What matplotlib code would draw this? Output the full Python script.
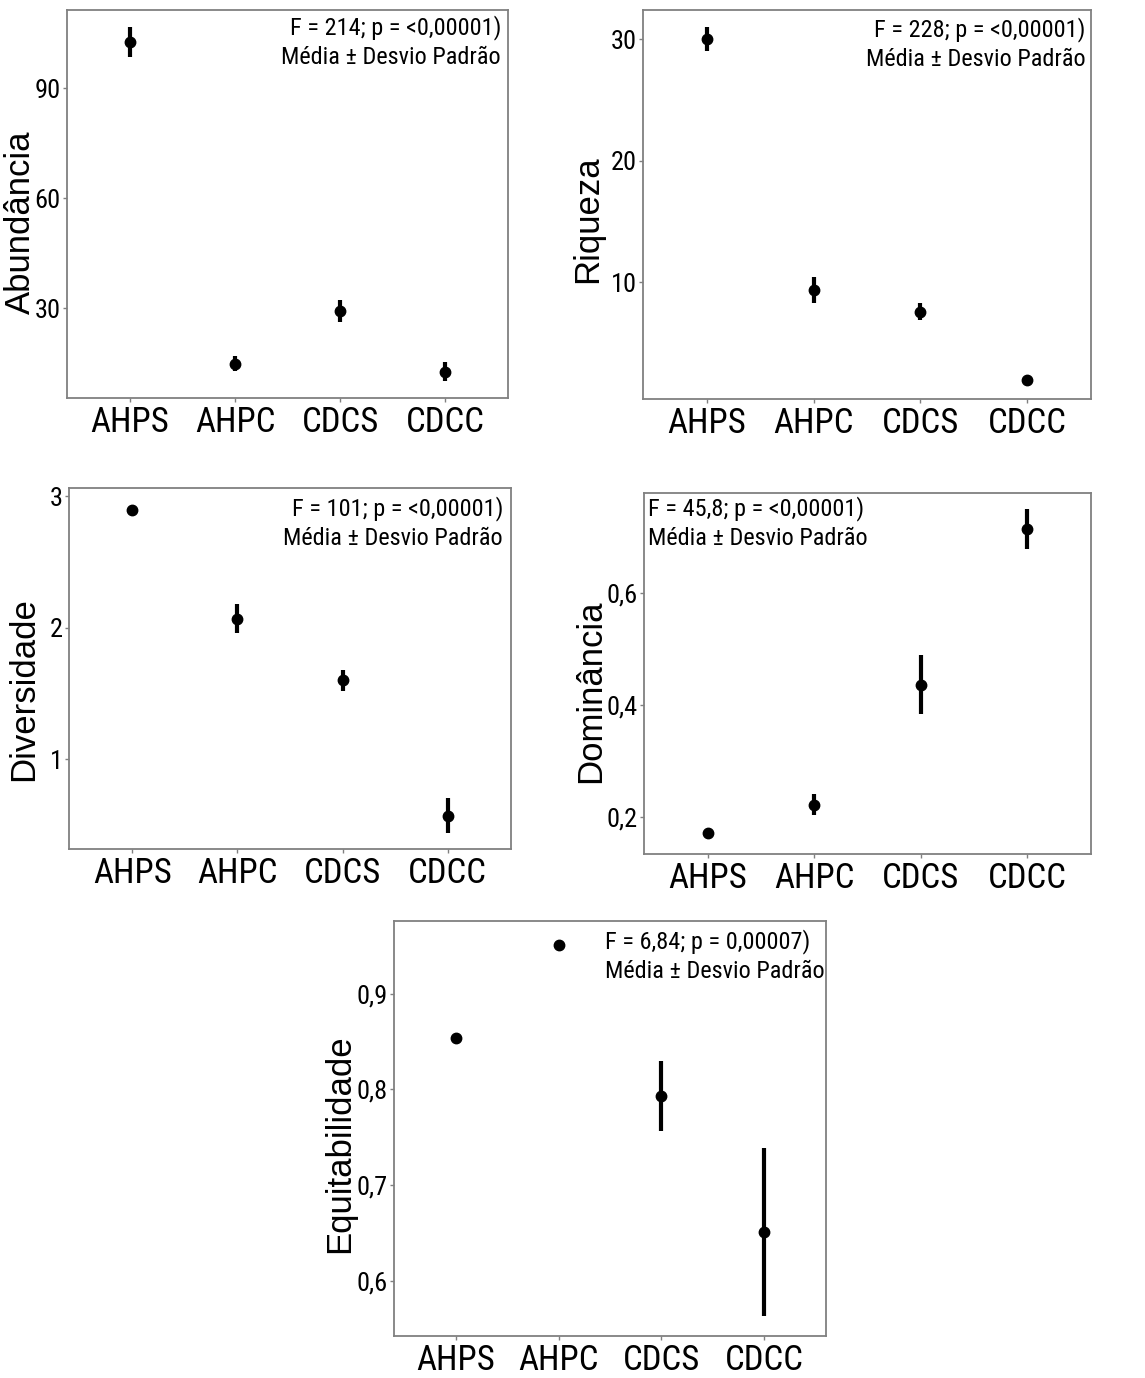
import numpy as np
import matplotlib
matplotlib.use("Agg")
import matplotlib.pyplot as plt
from matplotlib import font_manager

# groups and values (mean, sd)
groups = ["AHPS", "AHPC", "CDCS", "CDCC"]

abund_mean = [102.6, 14.9, 29.3, 12.6]
abund_sd = [4.0, 2.0, 3.0, 2.6]

riq_mean = [30.0, 9.4, 7.6, 2.0]
riq_sd = [1.0, 1.05, 0.7, 0.1]

div_mean = [2.90, 2.07, 1.60, 0.57]
div_sd = [0.02, 0.11, 0.08, 0.13]

dom_mean = [0.171, 0.221, 0.436, 0.715]
dom_sd = [0.005, 0.019, 0.053, 0.036]

eq_mean = [0.854, 0.951, 0.793, 0.651]
eq_sd = [0.003, 0.003, 0.037, 0.088]

stats_text = ["F = 214; p = <0,00001)", "F = 228; p = <0,00001)", "F = 101; p = <0,00001)",
              "F = 45,8; p = <0,00001)", "F = 6,84; p = 0,00007)"]

# look for a narrow face (the original uses Arial Narrow), else regular Liberation Sans
narrow_fp = None
prefs = ["Liberation Sans Narrow", "Roboto Condensed", "Noto Sans", "Open Sans", "Roboto", "DejaVu Sans"]
for pref in prefs:
    for f in font_manager.fontManager.ttflist:
        cond = ("Narrow" in f.name or "Condensed" in f.name
                or f.stretch in ("condensed", "semi-condensed", "extra-condensed"))
        if f.name.startswith(pref) and cond and f.style == "normal" and f.weight in (400, "normal", "regular"):
            narrow_fp = f.fname
            break
    if narrow_fp:
        break

if narrow_fp:
    narrow = dict(fontproperties=font_manager.FontProperties(fname=narrow_fp))
    xt_size, yt_size, txt_size = 25, 19, 17.5
else:
    narrow = dict(family="Liberation Sans")
    xt_size, yt_size, txt_size = 22, 16, 14.5

W, H = 1145, 1378
fig = plt.figure(figsize=(W / 100, H / 100), dpi=100)
fig.patch.set_facecolor("white")


def make_axes(x0, x1, y0, y1):
    # pixel box -> figure fraction
    return fig.add_axes([x0 / W, 1 - y1 / H, (x1 - x0) / W, (y1 - y0) / H])


def panel(ax, means, sds, ylim, yticks, ylabel, label_xy, txt, txt_xy, ha):
    x = np.arange(len(groups))
    ax.errorbar(x, means, yerr=sds, fmt="o", color="black", ms=7.5,
                elinewidth=3, capsize=0, zorder=3)
    ax.set_xlim(-0.6, 3.6)
    ax.set_ylim(*ylim)
    ax.set_xticks(x)
    ax.set_xticklabels(groups)
    ax.set_yticks(yticks)
    ax.set_yticklabels([str(t).replace(".", ",") for t in yticks])
    for lab in ax.get_xticklabels():
        lab.update(narrow)
        lab.set_fontsize(xt_size)
    for lab in ax.get_yticklabels():
        lab.update(narrow)
        lab.set_fontsize(yt_size)
    ax.tick_params(length=3, width=1, color="#808080", pad=1.5)
    ax.tick_params(axis="x", pad=3)
    for s in ax.spines.values():
        s.set_color("#808080")
        s.set_linewidth(1.3)
    ax.set_ylabel(ylabel, fontsize=25, family="Liberation Sans", va="center")
    ax.yaxis.set_label_coords(*label_xy)
    t = ax.text(txt_xy[0], txt_xy[1], txt + "\nMédia ± Desvio Padrão", transform=ax.transAxes,
                ha=ha, va="top", multialignment=ha, linespacing=1.35)
    t.update(narrow)
    t.set_fontsize(txt_size)


ax1 = make_axes(67, 508, 10, 398)
panel(ax1, abund_mean, abund_sd, (5.5, 111.3), [30, 60, 90], "Abundância",
      (-0.106, 0.454), stats_text[0], (0.984, 0.988), "right")

ax2 = make_axes(643, 1091, 10, 399)
panel(ax2, riq_mean, riq_sd, (0.42, 32.4), [10, 20, 30], "Riqueza",
      (-0.124, 0.463), stats_text[1], (0.987, 0.983), "right")

ax3 = make_axes(69, 511, 488, 849)
panel(ax3, div_mean, div_sd, (0.315, 3.064), [1, 2, 3], "Diversidade",
      (-0.102, 0.443), stats_text[2], (0.982, 0.978), "right")

ax4 = make_axes(644, 1091, 493, 854)
panel(ax4, dom_mean, dom_sd, (0.133, 0.779), [0.2, 0.4, 0.6], "Dominância",
      (-0.12, 0.45), stats_text[3], (0.009, 0.992), "left")

ax5 = make_axes(394, 826, 921, 1336)
panel(ax5, eq_mean, eq_sd, (0.542, 0.976), [0.6, 0.7, 0.8, 0.9], "Equitabilidade",
      (-0.127, 0.463), stats_text[4], (0.488, 0.981), "left")

fig.savefig("out.png", dpi=100, facecolor="white")
